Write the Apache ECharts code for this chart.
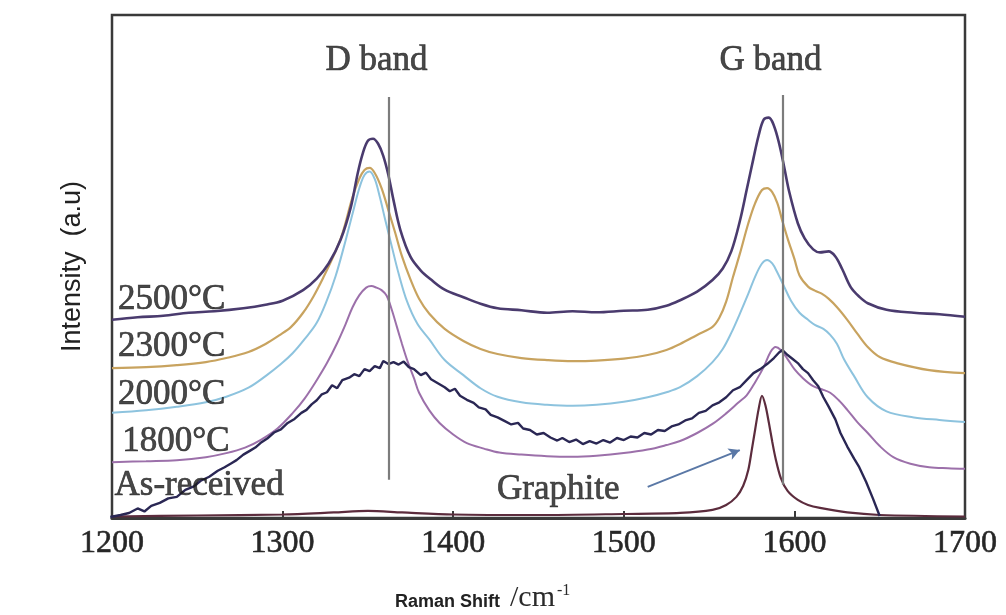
<!DOCTYPE html>
<html>
<head>
<meta charset="utf-8">
<script src="https://cdn.jsdelivr.net/npm/echarts@6/dist/echarts.min.js"></script>
<style>
  html, body { margin: 0; padding: 0; background: #ffffff; }
  #chart { width: 1006px; height: 615px; }
</style>
</head>
<body>
<div id="chart"></div>
<script>
// Raman spectra of carbon fibre heat-treated at different temperatures
// [Raman shift (cm^-1), intensity (a.u., stacked offsets)]
const xTicks = [1200, 1300, 1400, 1500, 1600, 1700];

const spec2500 = [[1200,39.4],[1215,39.9],[1230,40.2],[1245,40.8],[1260,41.1],[1277,41.7],[1290,42.4],[1300,43.2],[1312,45.3],[1320,47.6],[1327,50.6],[1334,55.3],[1340,61.8],[1344,68.5],[1347,72.5],[1350,75.0],[1353,75.4],[1356,74.4],[1359,72.0],[1362,68.2],[1365,63.2],[1369,57.3],[1375,51.9],[1381,49.2],[1387,47.4],[1395,45.4],[1406,43.9],[1416,42.6],[1426,41.7],[1440,41.3],[1455,40.8],[1470,41.1],[1484,40.9],[1500,41.2],[1514,41.4],[1525,42.2],[1533,43.3],[1543,45.0],[1552,47.3],[1558,49.6],[1563,53.0],[1568,59.0],[1572,65.2],[1576,71.5],[1579,76.0],[1582,79.2],[1585,79.6],[1588,78.0],[1591,74.5],[1594,69.8],[1597,64.8],[1602,58.6],[1606,55.6],[1611,53.4],[1615,52.8],[1620,53.0],[1624,52.0],[1628,49.5],[1633,45.9],[1638,44.0],[1643,42.7],[1654,41.4],[1670,40.8],[1685,40.5],[1700,40.0]];

const spec2300 = [[1200,29.8],[1220,30.0],[1238,30.4],[1255,31.0],[1267,31.8],[1280,33.0],[1290,34.6],[1298,36.3],[1305,38.0],[1312,40.8],[1318,44.0],[1324,47.9],[1330,52.2],[1335,56.5],[1341,63.8],[1345,67.5],[1348,69.2],[1351,69.6],[1354,68.6],[1358,65.6],[1362,61.2],[1366,56.7],[1370,52.0],[1375,47.4],[1380,43.6],[1386,40.6],[1395,37.6],[1406,35.2],[1416,33.6],[1426,32.6],[1440,31.8],[1455,31.4],[1470,31.2],[1484,31.3],[1500,31.7],[1514,32.4],[1525,33.4],[1533,34.6],[1543,36.4],[1552,38.0],[1556,39.8],[1560,43.0],[1564,47.9],[1568,52.5],[1573,58.6],[1577,62.6],[1581,65.2],[1584,65.6],[1587,64.8],[1590,62.6],[1593,59.0],[1596,55.6],[1600,51.5],[1603,48.2],[1608,46.0],[1612,45.2],[1616,44.6],[1620,43.6],[1625,41.9],[1631,39.4],[1637,36.6],[1643,34.0],[1650,32.0],[1660,30.8],[1679,29.4],[1700,28.8]];

const spec2000 = [[1200,20.9],[1220,21.4],[1238,22.1],[1255,23.0],[1267,24.1],[1280,25.9],[1290,28.2],[1299,30.6],[1306,32.8],[1313,35.6],[1320,38.8],[1326,43.3],[1331,48.0],[1336,54.0],[1341,60.5],[1345,65.6],[1348,68.2],[1351,68.9],[1354,67.4],[1357,63.8],[1360,59.5],[1364,54.0],[1368,48.6],[1373,43.0],[1379,38.6],[1386,35.5],[1395,31.4],[1406,28.4],[1416,25.8],[1426,24.1],[1440,23.0],[1455,22.5],[1470,22.3],[1484,22.5],[1500,23.1],[1514,24.0],[1525,25.0],[1533,26.0],[1543,28.2],[1552,31.0],[1558,33.6],[1563,36.8],[1568,40.6],[1573,44.6],[1577,48.0],[1581,50.6],[1584,51.3],[1587,50.6],[1590,48.8],[1594,46.0],[1598,43.2],[1603,40.8],[1608,39.4],[1612,38.4],[1617,37.6],[1621,36.4],[1625,34.6],[1629,31.6],[1635,28.2],[1643,24.0],[1654,21.2],[1670,20.0],[1685,19.5],[1700,19.1]];

const spec1800 = [[1200,11.1],[1220,11.3],[1238,11.5],[1255,12.1],[1267,12.9],[1278,14.0],[1287,15.5],[1297,17.8],[1306,20.9],[1313,23.8],[1320,27.4],[1326,30.8],[1332,34.8],[1337,38.6],[1341,41.9],[1345,44.3],[1349,45.8],[1352,46.1],[1355,45.8],[1358,45.3],[1361,44.2],[1364,41.4],[1367,38.0],[1370,34.6],[1373,31.4],[1377,27.8],[1380,24.9],[1386,21.4],[1392,18.9],[1400,16.6],[1408,14.9],[1418,13.8],[1427,13.0],[1440,12.6],[1455,12.3],[1470,12.2],[1484,12.4],[1500,12.9],[1514,13.6],[1525,14.5],[1533,15.3],[1543,16.9],[1552,18.7],[1560,20.8],[1567,22.9],[1572,24.4],[1577,27.0],[1582,30.0],[1586,33.0],[1589,34.0],[1592,33.4],[1596,31.6],[1600,29.6],[1605,27.8],[1611,26.2],[1616,25.6],[1621,24.9],[1626,23.4],[1631,21.5],[1637,19.0],[1643,16.9],[1650,14.3],[1658,12.1],[1668,10.8],[1679,10.1],[1690,9.9],[1700,9.8]];

const specAsReceived = [[1199,0.2],[1205,0.6],[1210,1.0],[1215,1.9],[1219,1.3],[1223,2.4],[1228,3.0],[1233,3.9],[1238,4.2],[1243,5.6],[1248,6.3],[1252,7.4],[1257,8.2],[1262,9.4],[1266,10.1],[1270,10.9],[1273,11.5],[1277,12.6],[1281,13.4],[1284,14.0],[1287,14.9],[1291,15.8],[1295,17.0],[1299,17.6],[1303,18.9],[1307,19.7],[1311,20.9],[1314,21.5],[1317,22.6],[1320,23.4],[1323,24.6],[1326,25.0],[1329,26.4],[1332,25.8],[1335,27.4],[1339,27.9],[1342,28.6],[1345,28.2],[1348,29.6],[1351,29.2],[1354,30.2],[1357,29.8],[1359,31.2],[1362,30.6],[1365,31.0],[1368,30.5],[1371,31.1],[1374,30.0],[1377,29.6],[1381,28.4],[1384,28.9],[1387,27.6],[1391,26.8],[1395,26.0],[1398,25.2],[1401,25.7],[1404,24.3],[1408,23.5],[1412,22.9],[1415,22.0],[1419,21.6],[1422,20.5],[1426,20.0],[1430,19.3],[1434,18.6],[1438,18.9],[1441,17.8],[1445,17.5],[1449,16.6],[1453,16.9],[1457,16.0],[1461,15.4],[1464,15.9],[1468,15.1],[1472,15.6],[1476,14.7],[1480,15.3],[1484,14.8],[1488,15.5],[1492,15.0],[1496,15.9],[1500,15.5],[1504,16.2],[1508,16.0],[1512,16.9],[1516,16.6],[1520,17.5],[1524,17.3],[1528,18.2],[1532,18.6],[1536,19.4],[1540,19.8],[1544,20.9],[1548,21.3],[1552,22.4],[1556,23.0],[1560,24.0],[1564,25.4],[1568,26.0],[1572,27.4],[1576,28.8],[1580,29.6],[1584,30.6],[1588,31.8],[1591,32.9],[1593,33.4],[1596,32.4],[1599,31.6],[1602,30.8],[1605,29.6],[1608,28.8],[1611,27.4],[1614,26.2],[1617,24.0],[1620,22.2],[1624,19.6],[1627,16.9],[1631,14.2],[1635,11.8],[1638,10.1],[1642,7.2],[1646,3.9],[1650,0.4]];

const specGraphite = [[1200,0.3],[1250,0.5],[1300,0.7],[1330,1.1],[1350,1.4],[1370,1.1],[1400,0.7],[1450,0.6],[1500,0.8],[1533,1.0],[1552,1.6],[1560,2.6],[1566,4.2],[1570,6.4],[1573,9.6],[1575,13.5],[1577,17.6],[1579,21.6],[1581,24.3],[1583,22.4],[1585,19.0],[1587,15.2],[1589,11.8],[1592,8.0],[1596,5.4],[1602,3.6],[1608,2.6],[1615,2.0],[1631,1.1],[1650,0.6],[1700,0.3]];

// reference band positions and the vertical extent of their marker lines
const bandNames = ['D band', 'G band'];
const bandShifts = [1362, 1593];
const bandLineSpan = [[7.6, 83.7], [6.6, 84.1]];
const bandLabelY = 90.9;

// sample labels: [x, y, text]
const sampleLabels = [
  [1203.5, 43.3, '2500°C'],
  [1203.5, 34.0, '2300°C'],
  [1203.5, 24.5, '2000°C'],
  [1206.0, 15.1, '1800°C'],
  [1201.5, 6.4, 'As-received'],
  [1425.7, 5.6, 'Graphite']
];
// arrow from the "Graphite" label to its G peak
const graphiteArrow = [[1514, 6.2], [1568, 13.5]];

const seriesColors = {
  s2500: '#4a3b6e',
  s2300: '#c8a35f',
  s2000: '#8dc3de',
  s1800: '#9c70aa',
  asRec: '#2a2754',
  graphite: '#5c2c3d'
};

const serif = 'Liberation Serif, Times New Roman, serif';
const textColor = '#1a1a1a';

function spectrum(name, data, color, width, smooth) {
  return {
    name: name,
    type: 'line',
    data: data,
    showSymbol: false,
    smooth: smooth,
    lineStyle: { color: color, width: width },
    silent: true,
    z: 3
  };
}

const chart = echarts.init(document.getElementById('chart'), null, { renderer: 'canvas' });

const option = {
  animation: false,
  backgroundColor: '#ffffff',
  grid: {
    left: 112, right: 41, top: 15, bottom: 97,
    show: true, borderColor: '#3a3a3a', borderWidth: 2.5, backgroundColor: 'transparent'
  },
  xAxis: {
    type: 'value',
    min: xTicks[0], max: xTicks[xTicks.length - 1], interval: 100,
    axisLine: { show: true, lineStyle: { color: '#3a3a3a', width: 3 } },
    axisTick: { show: true, inside: true, length: 7, lineStyle: { color: '#3a3a3a', width: 2 } },
    axisLabel: {
      fontFamily: serif, fontSize: 32, color: '#262626', margin: 10,
      textBorderColor: '#262626', textBorderWidth: 0.6,
      formatter: v => String(v)
    },
    splitLine: { show: false }
  },
  yAxis: {
    type: 'value', min: 0, max: 100,
    name: 'Intensity  (a.u)',
    nameLocation: 'middle',
    nameGap: 26,
    nameRotate: 90,
    nameTextStyle: { fontFamily: 'Liberation Sans, Arial, sans-serif', fontSize: 27, color: '#222' },
    axisLine: { show: false }, axisTick: { show: false },
    axisLabel: { show: false }, splitLine: { show: false }
  },
  graphic: [{
    type: 'text',
    left: 395, top: 583,
    style: {
      text: '{a|Raman Shift}{s|  }{b|/cm}{c|-1}',
      rich: {
        a: { fontFamily: 'Liberation Sans Narrow, Liberation Sans, Arial, sans-serif', fontSize: 18, fontWeight: 'bold', fill: '#222', verticalAlign: 'bottom', padding: [0, 0, 2, 0] },
        s: { fontSize: 18 },
        b: { fontFamily: serif, fontSize: 30, fill: '#2a2a2a' },
        c: { fontFamily: serif, fontSize: 16, fill: '#2a2a2a', verticalAlign: 'top', padding: [0, 0, 14, 2] }
      }
    }
  }],
  series: [
    spectrum('Graphite', specGraphite, seriesColors.graphite, 2.2, 0.3),
    spectrum('1800°C', spec1800, seriesColors.s1800, 2, 0.35),
    spectrum('2000°C', spec2000, seriesColors.s2000, 2, 0.35),
    spectrum('2300°C', spec2300, seriesColors.s2300, 2.2, 0.35),
    spectrum('As-received', specAsReceived, seriesColors.asRec, 2.4, false),
    spectrum('2500°C', spec2500, seriesColors.s2500, 2.6, 0.35),
    {
      // band marker lines and the graphite arrow
      name: 'markers',
      type: 'line',
      data: [],
      silent: true,
      markLine: {
        silent: true,
        symbol: ['none', 'none'],
        label: { show: false },
        lineStyle: { color: '#7c7c7c', width: 2.2, type: 'solid' },
        data: bandShifts.map((x, i) => [
          { coord: [x, bandLineSpan[i][0]] },
          { coord: [x, bandLineSpan[i][1]] }
        ]).concat([[
          { coord: graphiteArrow[0], symbol: 'none', lineStyle: { color: '#5a78a6', width: 2 } },
          { coord: graphiteArrow[1], symbol: 'arrow', symbolSize: [9, 11], lineStyle: { color: '#5a78a6', width: 2 } }
        ]])
      },
      z: 2
    },
    {
      name: 'band labels',
      type: 'scatter',
      data: bandShifts.map((x, i) => [x - 7, bandLabelY, bandNames[i]]),
      symbolSize: 0,
      silent: true,
      label: {
        show: true, position: 'inside',
        formatter: p => p.data[2],
        fontFamily: serif, fontSize: 35, color: textColor,
        textBorderColor: textColor, textBorderWidth: 0.7
      },
      z: 5
    },
    {
      name: 'sample labels',
      type: 'scatter',
      data: sampleLabels,
      symbolSize: 0,
      silent: true,
      label: {
        show: true, position: 'right', distance: 0,
        formatter: p => p.data[2],
        fontFamily: serif, fontSize: 35, color: textColor,
        textBorderColor: textColor, textBorderWidth: 0.7
      },
      z: 5
    }
  ]
};

chart.setOption(option);
</script>
</body>
</html>
